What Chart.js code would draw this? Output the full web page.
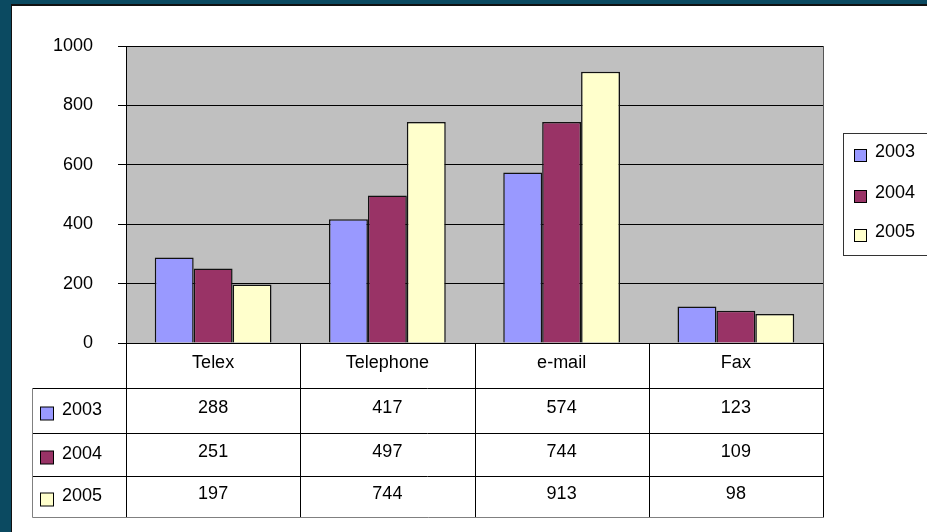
<!DOCTYPE html>
<html>
<head>
<meta charset="utf-8">
<script src="https://cdn.jsdelivr.net/npm/chart.js@4.4.1/dist/chart.umd.min.js"></script>
<style>
  html, body { margin: 0; padding: 0; background: #fff; }
  #wrap { position: relative; width: 927px; height: 532px; }
</style>
</head>
<body>
<div id="wrap"><canvas id="chart" width="927" height="532"></canvas></div>
<script>
// Messages sent per channel, by year
const categories = ['Telex', 'Telephone', 'e-mail', 'Fax'];
const years = ['2003', '2004', '2005'];
const values2003 = [288, 417, 574, 123];
const values2004 = [251, 497, 744, 109];
const values2005 = [197, 744, 913, 98];
const yTicks = [0, 200, 400, 600, 800, 1000];

const seriesColors = ['#9999FF', '#993366', '#FFFFCC'];
const seriesValues = [values2003, values2004, values2005];
const FONT = '18px "Liberation Sans", Arial, sans-serif';

// Teal frame, white page and grey plot background
const framePlugin = {
    id: 'frame',
    beforeDraw(chart) {
        const ctx = chart.ctx;
        const a = chart.chartArea;
        ctx.save();
        ctx.fillStyle = '#0b4a61';
        ctx.fillRect(0, 0, chart.width, chart.height);
        ctx.fillStyle = '#111';
        ctx.fillRect(11, 4, chart.width - 11, chart.height - 4);
        ctx.fillStyle = '#fff';
        ctx.fillRect(12, 6, chart.width - 12, chart.height - 6);
        ctx.fillStyle = '#c0c0c0';
        ctx.fillRect(a.left, a.top, a.right - a.left, a.bottom - a.top);
        ctx.restore();
    }
};

// Data table under the plot and legend on the right
const tablePlugin = {
    id: 'dataTable',
    afterDraw(chart) {
        const ctx = chart.ctx;
        const a = chart.chartArea;
        const colW = (a.right - a.left) / categories.length;
        const rowLines = [388, 433, 476, 517];
        const tableLeft = 32;
        ctx.save();
        ctx.lineWidth = 1;

        // plot right edge
        ctx.strokeStyle = '#555';
        ctx.beginPath();
        ctx.moveTo(a.right + 0.5, a.top);
        ctx.lineTo(a.right + 0.5, a.bottom);
        ctx.stroke();

        // horizontal rules
        ctx.strokeStyle = '#000';
        ctx.beginPath();
        rowLines.forEach((y, i) => {
            if (i === rowLines.length - 1) return;
            ctx.moveTo(tableLeft, y + 0.5);
            ctx.lineTo(a.right, y + 0.5);
        });
        // column rules
        for (let i = 0; i <= categories.length; i++) {
            const x = Math.round(a.left + i * colW) + 0.5;
            ctx.moveTo(x, a.bottom);
            ctx.lineTo(x, rowLines[3]);
        }
        ctx.stroke();

        // outer edges in grey
        ctx.strokeStyle = '#808080';
        ctx.beginPath();
        ctx.moveTo(tableLeft + 0.5, rowLines[0]);
        ctx.lineTo(tableLeft + 0.5, rowLines[3] + 0.5);
        ctx.lineTo(a.right + 1, rowLines[3] + 0.5);
        ctx.stroke();

        ctx.font = FONT;
        ctx.fillStyle = '#000';
        ctx.textAlign = 'center';
        ctx.textBaseline = 'middle';
        categories.forEach((c, i) => {
            const cx = a.left + (i + 0.5) * colW;
            ctx.fillText(c, cx, 363);
            seriesValues.forEach((vals, r) => {
                const mid = (rowLines[r] + rowLines[r + 1]) / 2;
                ctx.fillText(String(vals[i]), cx, mid - 2);
            });
        });

        // series labels in the table
        ctx.textAlign = 'left';
        years.forEach((y, r) => {
            const mid = (rowLines[r] + rowLines[r + 1]) / 2;
            ctx.fillStyle = seriesColors[r];
            ctx.fillRect(40.5, mid - 3.5, 13, 13);
            ctx.strokeStyle = '#000';
            ctx.strokeRect(40.5, mid - 3.5, 13, 13);
            ctx.fillStyle = '#000';
            ctx.fillText(y, 62, mid);
        });

        // legend
        ctx.strokeStyle = '#333';
        ctx.strokeRect(843.5, 133.5, 100, 122);
        const legendY = [152, 193, 232];
        years.forEach((y, r) => {
            ctx.fillStyle = seriesColors[r];
            ctx.fillRect(854.5, legendY[r] - 2.5, 12, 12);
            ctx.strokeStyle = '#000';
            ctx.strokeRect(854.5, legendY[r] - 2.5, 12, 12);
            ctx.fillStyle = '#000';
            ctx.fillText(y, 875, legendY[r]);
        });
        ctx.restore();
    }
};

new Chart(document.getElementById('chart'), {
    type: 'bar',
    data: {
        labels: categories,
        datasets: years.map((y, i) => ({
            label: y,
            data: seriesValues[i],
            backgroundColor: seriesColors[i],
            borderColor: '#111',
            borderWidth: 1.5,
            categoryPercentage: 0.67,
            barPercentage: 1.0
        }))
    },
    options: {
        responsive: false,
        animation: false,
        layout: { padding: { left: 0, top: 46, right: 104, bottom: 189 } },
        plugins: {
            legend: { display: false },
            tooltip: { enabled: false }
        },
        scales: {
            x: { display: false },
            y: {
                min: 0,
                max: 1000,
                afterBuildTicks: s => { s.ticks = yTicks.map(v => ({ value: v })); },
                afterFit: s => { s.width = 126; },
                grid: { color: '#000', lineWidth: 1, tickLength: 8 },
                border: { color: '#000' },
                ticks: {
                    color: '#000',
                    padding: 25,
                    callback: v => String(v),
                    font: { family: '"Liberation Sans", Arial, sans-serif', size: 18 }
                }
            }
        }
    },
    plugins: [framePlugin, tablePlugin]
});
</script>
</body>
</html>
